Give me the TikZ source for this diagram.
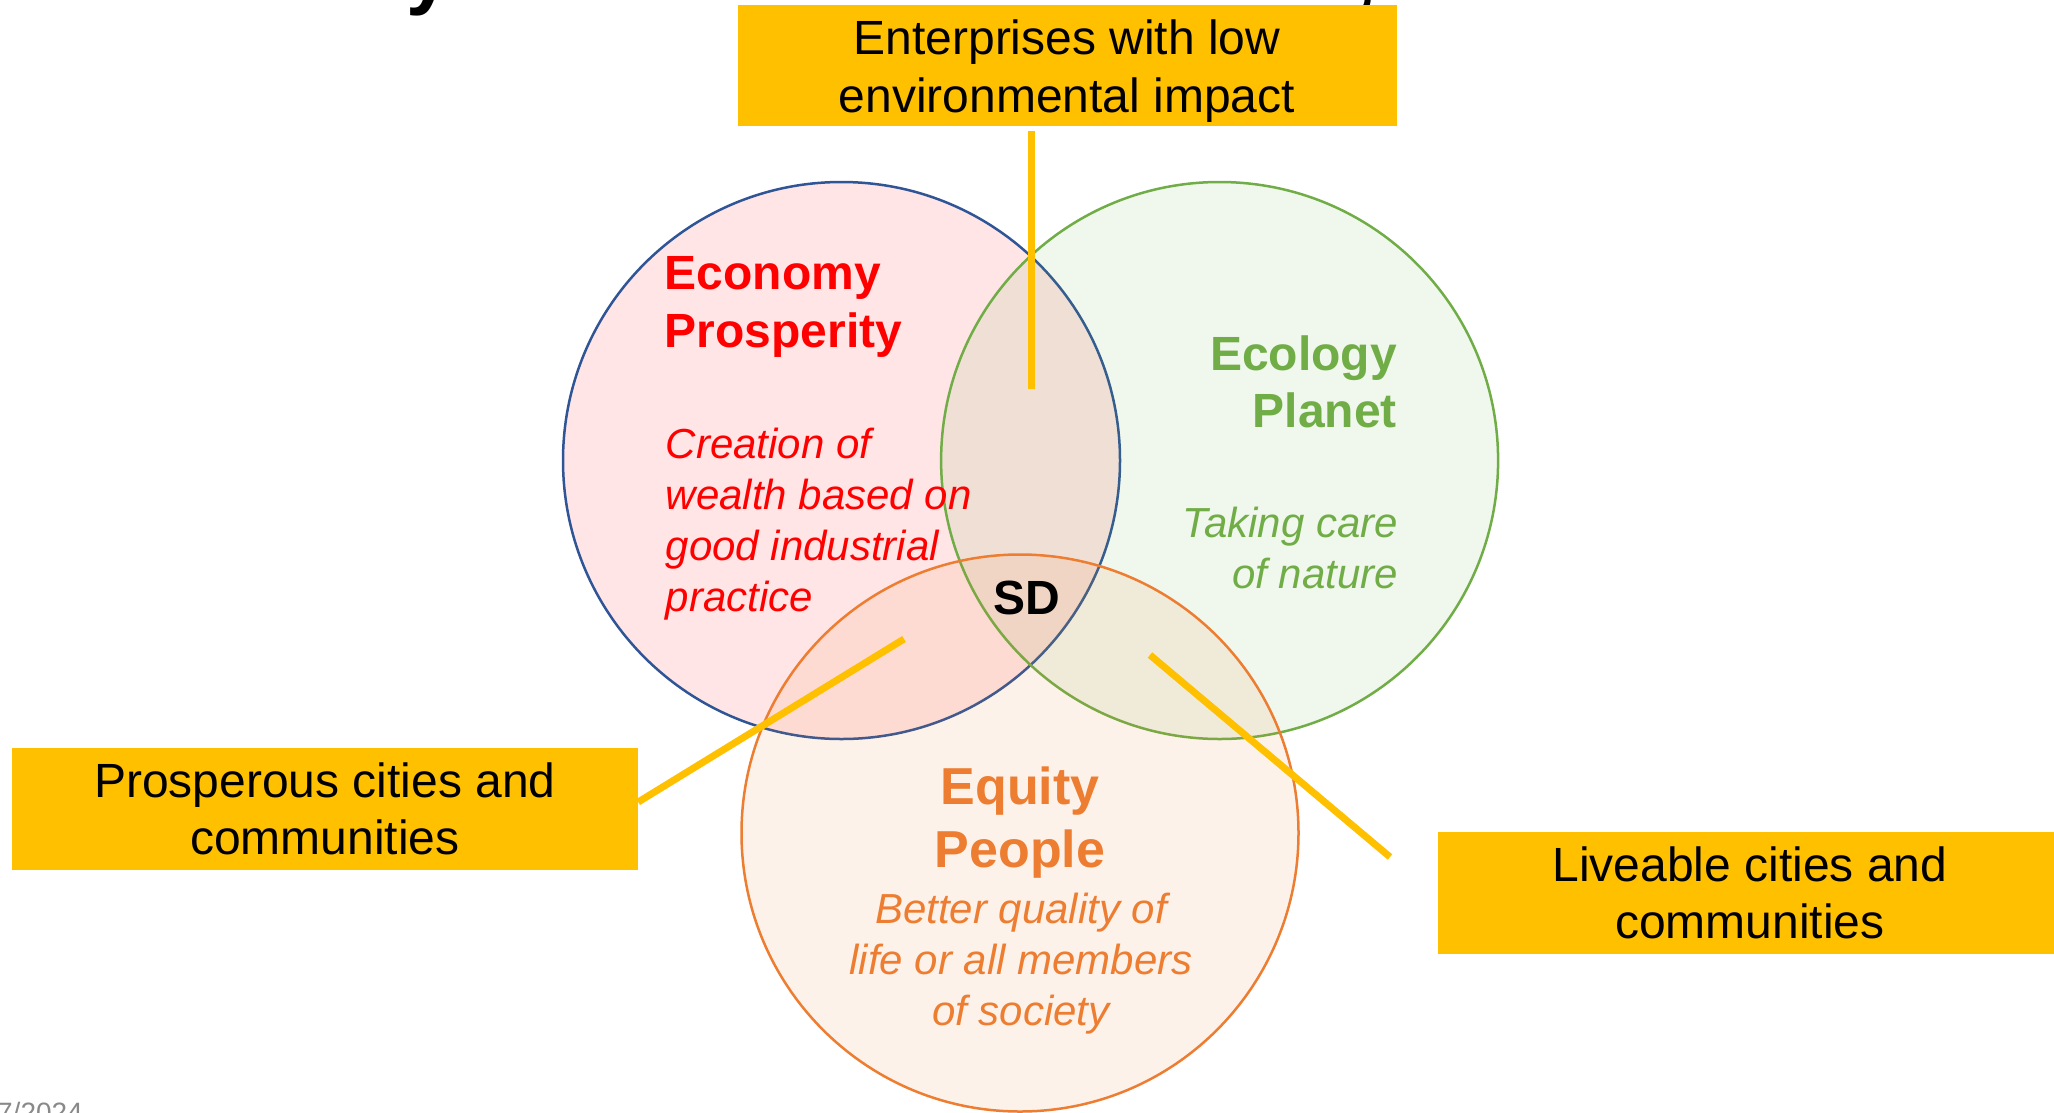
\documentclass[tikz,border=0pt]{standalone}
\usepackage{fontspec}
\setmainfont{Liberation Sans}
\usepackage{tikz}
\usetikzlibrary{positioning}
\definecolor{ecored}{HTML}{FF0000}
\definecolor{ecoblue}{HTML}{2F5597}
\definecolor{eclgreen}{HTML}{70AD47}
\definecolor{eqtorange}{HTML}{ED7D31}
\definecolor{boxyellow}{HTML}{FFC000}
\definecolor{dategray}{HTML}{898989}
\tikzset{venn/.style={circle, minimum size=557pt, inner sep=0pt,
    line width=2.5pt, fill opacity=0.1}}

\begin{document}
\begin{tikzpicture}[x=1pt, y=-1pt,
      callout/.style={fill=boxyellow, inner sep=0pt, align=center,
        font=\fontsize{48}{57.6}\selectfont},
      heading/.style={inner sep=0pt, font=\bfseries\fontsize{48}{57.6}\selectfont},
      remark/.style={inner sep=0pt, font=\itshape\fontsize{42}{50.4}\selectfont},
      pointer/.style={draw=boxyellow, line width=7pt}]

    \useasboundingbox (0,0) rectangle (2054,1112);

    % clipped title and date
    \node[inner sep=0pt, anchor=base west, font=\bfseries\fontsize{80}{96}\selectfont]
      (ttlY) at (406,-1) {y};
    \node[inner sep=0pt, anchor=base west, font=\bfseries\fontsize{80}{96}\selectfont]
      (ttlComma) at (1354,-1) {,};
    \node[inner sep=0pt, anchor=base east, text=dategray, font=\fontsize{28}{33.6}\selectfont]
      (date) at (83,1122) {7/2024};

    % the three circles
    \node[venn, draw=ecoblue, fill=ecored]
      (econ) at (841.5,460.5) {};
    \node[venn, draw=eclgreen, fill=eclgreen]
      (ecol) at (1219.6,460.5) {};
    \node[venn, draw=eqtorange, fill=eqtorange]
      (equi) at (1020,833) {};

    % pointers
    \coordinate (entEnd) at (1031,389);
    \coordinate (prospEnd) at (904,639);
    \coordinate (liveStart) at (1150,655);
    \coordinate (liveEnd) at (1390,857);

    % callout boxes
    \node[callout, minimum width=659pt, minimum height=121pt]
      (enterp) at (1067,65.5) {};
    \node[inner sep=0pt, align=center, font=\fontsize{48}{57.6}\selectfont]
      (enterpTxt) at (1067,71) {Enterprises with low\\environmental impact};
    \node[callout, minimum width=626pt, minimum height=122pt]
      (prosp) at (325,809) {Prosperous cities and\\communities};
    \node[callout, minimum width=624pt, minimum height=122pt]
      (livea) at (1750,893) {Liveable cities and\\communities};

    \path[pointer]
      ([yshift=-5pt]enterp.south -| entEnd) edge (entEnd)
      ([yshift=7pt]prosp.east) edge (prospEnd)
      (liveStart) edge (liveEnd);

    % economy
    \node[heading, text=ecored, anchor=base west] (econA) at (664.5,289.5) {Economy};
    \node[heading, text=ecored, anchor=base west] (econB) at (664.5,347) {Prosperity};
    \node[remark, text=ecored, anchor=base west] (econC) at (665.5,458) {Creation of};
    \node[remark, text=ecored, anchor=base west] (econD) at (665.5,509) {wealth based on};
    \node[remark, text=ecored, anchor=base west] (econE) at (665.5,560) {good industrial};
    \node[remark, text=ecored, anchor=base west] (econF) at (665.5,611) {practice};

    % ecology
    \node[heading, text=eclgreen, anchor=base east] (ecolA) at (1397,370) {Ecology};
    \node[heading, text=eclgreen, anchor=base east] (ecolB) at (1397,427) {Planet};
    \node[remark, text=eclgreen, anchor=base east] (ecolC) at (1398,537) {Taking care};
    \node[remark, text=eclgreen, anchor=base east] (ecolD) at (1398,588) {of nature};

    % equity
    \node[heading, text=eqtorange, anchor=base, font=\bfseries\fontsize{52}{62.4}\selectfont]
      (equiA) at (1020,804) {Equity};
    \node[heading, text=eqtorange, anchor=base, font=\bfseries\fontsize{52}{62.4}\selectfont]
      (equiB) at (1020,867) {People};
    \node[remark, text=eqtorange, anchor=base] (equiC) at (1021,923) {Better quality of};
    \node[remark, text=eqtorange, anchor=base] (equiD) at (1021,974) {life or all members};
    \node[remark, text=eqtorange, anchor=base] (equiE) at (1021,1025) {of society};

    % centre
    \node[heading, anchor=base] (sd) at (1027,614) {SD};

  \end{tikzpicture}
\end{document}
